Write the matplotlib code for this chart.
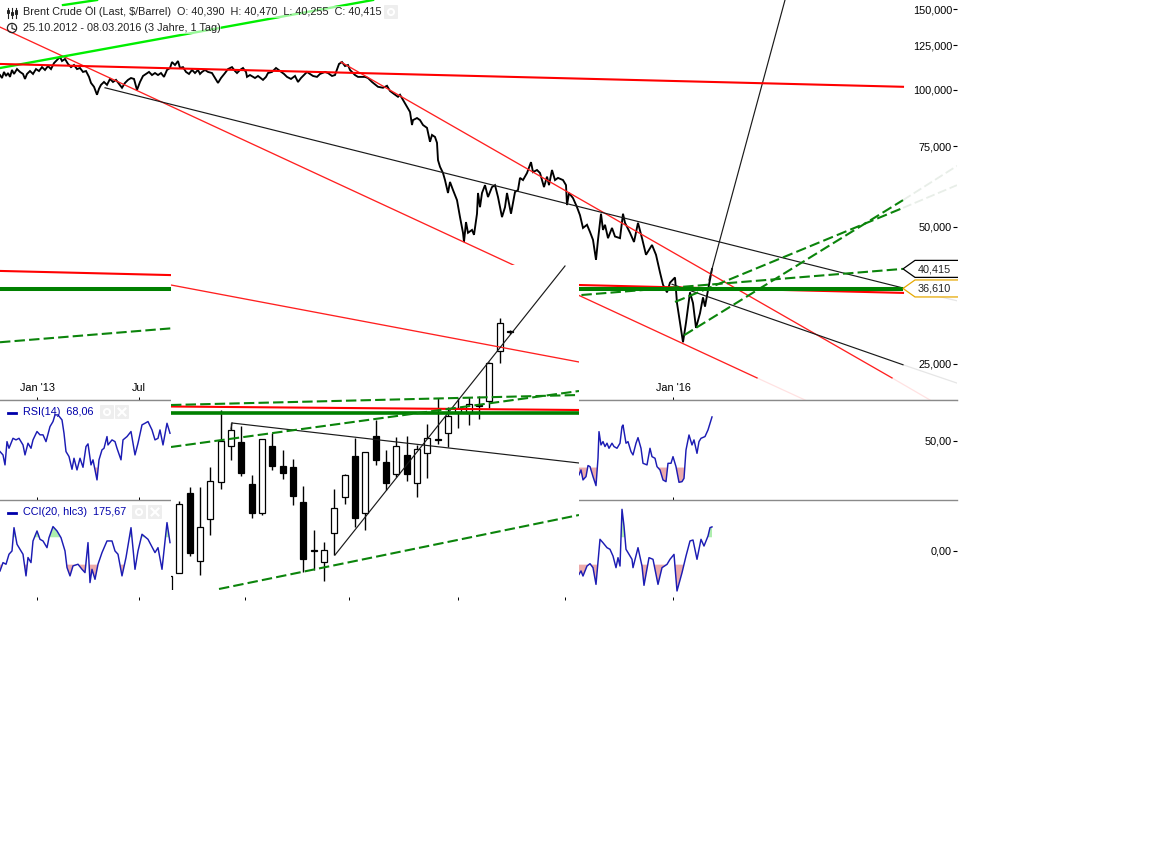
import matplotlib
matplotlib.use("Agg")
import matplotlib.pyplot as plt
from matplotlib.patches import Circle, FancyBboxPatch, Polygon, Rectangle
from matplotlib.ticker import NullLocator
from matplotlib.transforms import IdentityTransform

plt.rcParams["font.family"] = ["Liberation Sans", "DejaVu Sans"]

W, H = 1152, 849
FONT = 7.8

# brent close, x is the chart position along the time axis
price_x = [0, 2, 4, 6, 8, 10, 12, 14, 17, 20, 23, 25,
           27, 30, 33, 36, 39, 42, 45, 48, 51, 54, 57, 60,
           62, 65, 68, 71, 74, 77, 80, 83, 86, 89, 91, 94,
           97, 99, 101, 104, 107, 110, 113, 116, 119, 122, 125, 128,
           131, 134, 137, 140, 143, 146, 149, 152, 155, 158, 161, 164,
           167, 170, 172, 175, 178, 180, 183, 186, 189, 192, 195, 198,
           200, 202, 205, 208, 212, 215, 218, 221, 225, 228, 232, 235,
           237, 240, 243, 246, 247, 250, 255, 258, 263, 266, 268, 272,
           276, 280, 284, 287, 291, 295, 298, 301, 305, 307, 310, 313,
           317, 320, 325, 328, 332, 335, 339, 342, 345, 348, 350, 355,
           358, 365, 368, 372, 378, 383, 387, 390, 394, 398, 400, 403,
           407, 410, 412, 413, 417, 420, 423, 427, 430, 432, 435, 437,
           438, 440, 443, 445, 448, 450, 453, 457, 460, 463, 464, 466,
           468, 472, 474, 477, 478, 480, 482, 485, 488, 492, 495, 498,
           502, 505, 507, 511, 515, 518, 520, 523, 527, 531, 533, 537,
           540, 544, 547, 549, 552, 555, 558, 563, 566, 567, 569, 573,
           577, 580, 583, 587, 590, 593, 596, 598, 601, 603, 605, 608,
           612, 615, 620, 623, 625, 630, 634, 638, 642, 646, 652, 656,
           660, 663, 667, 670, 675, 677, 680, 683, 686, 690, 693, 696,
           700, 703, 705, 708, 712]
price_close = [107.6, 106.0, 109.3, 107.1, 108.7, 106.6, 110.4, 108.2, 110.9, 109.3, 108.2, 105.5,
               108.2, 109.8, 108.2, 110.9, 109.8, 112.0, 110.4, 112.6, 110.9, 114.3, 116.1, 117.9,
               115.5, 116.7, 113.8, 112.0, 113.2, 110.9, 111.5, 109.3, 109.8, 106.6, 103.4, 101.4,
               97.4, 100.4, 102.4, 103.9, 102.4, 105.5, 103.9, 105.0, 102.9, 100.9, 103.4, 105.0,
               106.0, 105.5, 99.8, 103.9, 107.1, 108.2, 109.3, 107.6, 108.7, 107.6, 108.7, 106.6,
               110.4, 111.5, 114.9, 113.2, 115.5, 111.5, 112.0, 109.3, 108.2, 110.4, 108.7, 110.4,
               108.2, 109.3, 110.4, 109.3, 108.7, 106.0, 103.4, 106.0, 108.7, 110.9, 112.0, 109.8,
               108.7, 110.4, 111.5, 109.3, 106.6, 107.6, 106.0, 107.1, 105.0, 106.6, 108.7, 109.3,
               111.5, 109.8, 108.2, 106.6, 105.5, 107.1, 103.9, 106.0, 108.2, 109.3, 108.2, 107.1,
               106.6, 108.2, 109.3, 108.7, 107.1, 107.6, 113.8, 114.9, 112.6, 113.2, 110.4, 107.6,
               106.6, 106.6, 106.0, 103.9, 101.4, 100.9, 101.9, 99.3, 97.8, 96.4, 97.4, 94.9,
               91.6, 89.3, 83.6, 85.7, 86.6, 85.7, 83.6, 82.4, 76.8, 79.5, 78.7, 76.4,
               70.0, 67.7, 65.6, 63.3, 59.3, 62.7, 60.2, 57.2, 52.5, 48.5, 46.3, 51.2,
               48.5, 49.2, 48.0, 53.4, 59.3, 55.2, 59.3, 61.7, 58.1, 61.1, 61.7, 58.1,
               52.5, 55.2, 59.3, 53.4, 59.6, 60.2, 64.0, 63.3, 65.6, 69.3, 65.9, 66.6,
               65.6, 61.1, 64.4, 61.7, 66.6, 63.3, 64.0, 63.3, 61.7, 55.8, 59.3, 57.8,
               55.2, 53.0, 49.7, 50.5, 48.7, 46.8, 42.3, 46.8, 53.4, 49.2, 50.5, 47.2,
               49.7, 47.6, 47.2, 53.4, 51.0, 48.5, 46.3, 51.0, 47.2, 43.4, 45.6, 43.4,
               39.7, 37.3, 35.9, 37.7, 38.7, 34.0, 30.8, 27.9, 30.8, 35.9, 34.0, 30.0,
               32.3, 35.0, 33.4, 36.3, 40.4]

price_ticks = [150, 125, 100, 75, 50, 25]
price_tick_labels = ["150,000", "125,000", "100,000", "75,000", "50,000", "25,000"]
time_ticks = [37, 139, 673]
time_labels = ["Jan '13", "Jul", "Jan '16"]
cci_time_ticks = [37, 139, 245, 349, 458, 565, 673]
last_price = 40.415
support_price = 36.61

# trendlines on the price panel: x0, x1, p0, p1
red_wide = ([0, 903], [113.8, 101.4])
red_low = ([0, 903], [40.0, 35.8])
green_wide = ([0, 903], [36.5, 36.5])
lime_a = ([0, 373], [111.5, 157.2])
lime_b = ([63, 97], [153.2, 157.2])
red_a = ([0, 757], [137.1, 23.3])
red_a_fade = ([757, 805], [23.3, 20.84])
red_b = ([341, 892], [114.9, 23.3])
red_b_fade = ([892, 930], [23.3, 20.84])
black_a = ([105, 903], [100.9, 36.7])
black_a_fade = ([903, 957], [36.7, 34.4])
black_b = ([672, 903], [37.4, 24.9])
black_b_fade = ([903, 957], [24.9, 22.7])
black_steep = ([709, 785], [38.2, 157.2])
dash_a = ([0, 903], [27.9, last_price])
dash_b = ([684, 903], [28.9, 57.2])
dash_b_fade = ([903, 957], [57.2, 68.0])
dash_c = ([675, 903], [34.2, 55.0])
dash_c_fade = ([903, 957], [55.0, 61.7])

# rsi, left and right of the pasted chart
rsi_left_x = [0, 3, 5, 7, 9, 13, 16, 19, 23, 25, 28, 31, 33, 37, 40, 43, 46, 50, 53, 55,
              58, 62, 64, 66, 69, 72, 74, 77, 80, 83, 86, 88, 91, 93, 97, 99, 102, 104, 107, 108,
              112, 115, 117, 121, 123, 127, 131, 135, 138, 142, 145, 148, 152, 155, 158, 160, 163, 167, 170]
rsi_left = [42.0, 39.5, 32.0, 49.5, 44.5, 52.0, 50.8, 52.0, 47.0, 39.5, 48.3, 44.5, 50.8, 57.1, 54.6, 54.6, 49.5, 60.8, 64.6, 69.6,
            69.6, 65.8, 55.8, 42.0, 38.3, 28.7, 37.0, 28.2, 37.0, 30.2, 45.8, 47.8, 32.0, 35.8, 20.7, 35.8, 43.3, 44.5, 53.3, 47.0,
            50.8, 49.5, 44.5, 35.8, 50.8, 53.3, 57.1, 39.5, 48.3, 62.1, 63.3, 64.6, 58.3, 50.8, 52.0, 58.3, 47.0, 63.3, 55.8]
rsi_right_x = [579, 581, 583, 586, 588, 590, 593, 596, 598, 599, 601, 603, 605, 607, 609, 612, 614, 617,
               620, 622, 623, 626, 628, 631, 633, 636, 638, 641, 643, 647, 650, 652, 655, 657, 660, 663,
               666, 668, 671, 673, 676, 679, 682, 684, 686, 689, 692, 694, 697, 699, 701, 705, 708, 712]
rsi_right = [24.5, 28.2, 20.7, 23.2, 31.5, 30.7, 23.2, 16.4, 37.0, 57.0, 47.0, 49.5, 45.8, 48.3, 44.5, 48.3, 45.8, 44.5,
             48.3, 60.8, 62.0, 48.3, 49.5, 42.0, 39.5, 48.3, 52.5, 44.5, 33.2, 32.0, 44.5, 38.2, 37.0, 30.7, 28.2, 20.7,
             19.4, 33.2, 33.2, 38.2, 30.7, 18.9, 19.4, 21.9, 43.2, 54.5, 47.0, 50.8, 40.7, 49.5, 52.0, 53.3, 58.3, 68.06]

# cci
cci_left_x = [0, 3, 6, 9, 12, 14, 17, 20, 23, 26, 28, 31, 33, 37, 40, 43, 47, 49, 53, 57,
              61, 65, 67, 70, 73, 78, 82, 85, 88, 90, 92, 95, 98, 102, 107, 112, 115, 118, 122, 126,
              131, 135, 138, 142, 148, 155, 158, 162, 167, 170]
cci_left = [-146, -85, -97, -24, 0, 170, 49, 12, -24, -182, -48, -85, 73, 146, 85, 73, 24, 97, 178, 146,
            97, 0, -121, -182, -109, -97, -134, -158, 61, -231, -134, -207, -97, -12, 73, 73, 0, -24, -182, -48,
            170, -134, 0, 122, 85, -12, 24, -134, 207, 61]
cci_right_x = [579, 581, 583, 587, 590, 593, 596, 600, 603, 607, 610, 613, 616, 618, 620, 622, 624, 626, 628, 632, 633,
               638, 642, 644, 649, 653, 658, 662, 667, 670, 674, 677, 682, 686, 690, 693, 697, 701, 704, 708, 710, 712]
cci_right = [-171, -146, -183, -110, -93, -122, -244, 85, 60, 24, 12, -37, -122, -49, -110, 304, 182, 12, -12, -61, -122,
             24, -110, -251, -49, -61, -244, -122, -98, -61, -25, -292, -159, -37, 73, 80, -61, 85, 36, 109, 170, 175.67]

# pasted daily candles, units are arbitrary points of that chart
candle_x = [169.5, 179, 190, 200, 210, 221, 231, 241, 252, 262, 272, 283, 293, 303, 314, 324, 334,
            345, 355, 365, 376, 386, 396, 407, 417, 427, 438, 448, 458, 469, 479, 489, 500, 510]
candle_high = [14, 89, 103, 103, 123, 180, 167, 164, 115, 151, 157, 140, 131, 104, 60, 48, 101,
               116, 152, 138, 170, 140, 153, 154, 145, 166, 192, 183, 192, 193, 194, 228, 272, 260]
candle_low = [-10, 17, 34, 15, 55, 101, 130, 114, 72, 75, 120, 111, 85, 18, 20, 9, 35,
              86, 63, 60, 125, 100, 113, 109, 93, 112, 146, 143, 162, 165, 171, 182, 227, 256]
candle_open = [-10, 17, 97, 29, 71, 108, 144, 148, 106, 77, 144, 124, 123, 88, 40, 28, 57,
               93, 134, 77, 154, 128, 116, 135, 107, 137, 151, 157, 178, 177, 185, 189, 239, 258]
candle_close = [14, 86, 37, 63, 109, 149, 160, 117, 77, 151, 124, 117, 94, 31, 39, 40, 82,
                115, 72, 138, 130, 107, 144, 116, 141, 152, 150, 174, 182, 186, 184, 227, 267, 259]

# lines on the pasted chart
inset_red_thin = ([171, 579], [305, 228])
inset_black_steep = ([335, 565], [35, 324])
inset_black = ([232, 579], [167, 127])
inset_hook = ([231, 232], [161, 167])
inset_green = ([171, 579], [177, 177])
inset_red = ([171, 579], [183.5, 180])
inset_dash_a = ([171, 579], [185, 195])
inset_dash_b = ([171, 579], [143, 199])
inset_dash_c = ([219, 579], [1, 75])

title = "Brent Crude Öl (Last, $/Barrel)  O: 40,390  H: 40,470  L: 40,255  C: 40,415"
subtitle = "25.10.2012 - 08.03.2016 (3 Jahre, 1 Tag)"


def px_axes(fig, x0, y0, x1, y1, **kw):
    """axes placed by its pixel box, y counted from the top of the picture"""
    return fig.add_axes([x0 / W, 1 - y1 / H, (x1 - x0) / W, (y1 - y0) / H], **kw)


def right_labels(ax, ticks, labels):
    # labels sit left of the little dash, inside the panel
    ax.set_yticks(ticks)
    ax.set_yticklabels(labels)
    ax.yaxis.set_minor_locator(NullLocator())
    ax.tick_params(axis="y", which="both", left=False, right=True, labelleft=False, labelright=True,
                   direction="in", length=3, width=0.8, pad=-3.6, labelsize=FONT)
    for tick in ax.yaxis.get_major_ticks():
        tick.label2.set_horizontalalignment("right")


def bare(ax):
    for side in ["left", "right", "bottom", "top"]:
        ax.spines[side].set_visible(False)


def panel(ax, ylim, time_pos):
    bare(ax)
    ax.spines["top"].set_visible(True)
    ax.spines["top"].set_color("#8a8a8a")
    ax.spines["top"].set_linewidth(1.0)
    ax.set_xlim(0, 957)
    ax.set_ylim(*ylim)
    ax.set_xticks(time_pos)
    ax.set_xticklabels([])
    ax.tick_params(axis="x", direction="in", length=2.5, width=0.7)


def price_tag(ax, value, color):
    fig_y = ax.transData.transform((0, value))[1]
    left = ax.transData.transform((903, value))[0]
    right = left + 55
    pts = [(right, fig_y + 8.5), (left + 12, fig_y + 8.5), (left, fig_y),
           (left + 12, fig_y - 8.5), (right, fig_y - 8.5)]
    ax.add_patch(Polygon(pts, closed=False, facecolor="white", edgecolor=color, linewidth=0.9,
                         transform=IdentityTransform(), zorder=6, clip_on=False))
    text = f"{value:.3f}".replace(".", ",")
    ax.text(left + 31, fig_y - 0.5, text, transform=IdentityTransform(), fontsize=FONT,
            ha="center", va="center", color="#222222", zorder=7)


def button(ax, cx, cy, size, kind):
    ax.add_patch(FancyBboxPatch((cx - size / 2 + 1, cy - size / 2 + 1), size - 2, size - 2,
                                boxstyle="round,pad=1", facecolor="#eeeeee", edgecolor="none"))
    if kind == "gear":
        ax.add_patch(Circle((cx, cy), size * 0.22, facecolor="none", edgecolor="white", linewidth=1.4))
    else:
        d = size * 0.24
        ax.plot([cx - d, cx + d], [cy - d, cy + d], color="white", lw=1.6)
        ax.plot([cx - d, cx + d], [cy + d, cy - d], color="white", lw=1.6)


fig = plt.figure(figsize=(W / 100, H / 100), dpi=100, facecolor="white")

# price panel
ax = px_axes(fig, 0, 0, 957, 400, zorder=1)
bare(ax)
ax.spines["bottom"].set_visible(True)
ax.spines["bottom"].set_color("#8a8a8a")
ax.set_yscale("log")
ax.set_xlim(0, 957)
ax.set_ylim(20.84, 157.2)
ax.plot(price_x, price_close, color="black", lw=1.35, solid_joinstyle="miter", zorder=2)

for line in [red_a_fade, red_b_fade]:
    ax.plot(*line, color="#ffe2e2", lw=0.9, zorder=3)
for line in [black_a_fade, black_b_fade]:
    ax.plot(*line, color="#e6e6e6", lw=0.9, zorder=3)
for line in [dash_b_fade, dash_c_fade]:
    ax.plot(*line, color="#e8eee8", lw=1.3, dashes=(5, 2), zorder=3)
for line in [red_a, red_b]:
    ax.plot(*line, color="#ff2020", lw=0.95, zorder=3)
for line in [black_a, black_b, black_steep]:
    ax.plot(*line, color="#1a1a1a", lw=0.85, zorder=3)
for line in [lime_a, lime_b]:
    ax.plot(*line, color="#00ee00", lw=1.7, zorder=3)
ax.plot(*red_wide, color="#ff0000", lw=1.5, zorder=4)
ax.plot(*red_low, color="#ff0000", lw=1.5, zorder=4)
for line in [dash_a, dash_b, dash_c]:
    ax.plot(*line, color="#0b840b", lw=1.5, dashes=(5, 2), zorder=4)
ax.plot(*green_wide, color="#008000", lw=2.9, zorder=5, solid_capstyle="butt")

right_labels(ax, price_ticks, price_tick_labels)
ax.set_xticks(time_ticks)
ax.set_xticklabels(time_labels)
ax.tick_params(axis="x", direction="in", length=2.5, width=0.7, pad=-12.3, labelsize=FONT)
fig.canvas.draw()
price_tag(ax, last_price, "black")
price_tag(ax, support_price, "#e6a800")

# rsi
ax_rsi = px_axes(fig, 0, 400, 957, 500, zorder=1)
panel(ax_rsi, (5.6, 80.8), time_ticks)
for xs, ys in [(rsi_left_x, rsi_left), (rsi_right_x, rsi_right)]:
    ax_rsi.fill_between(xs, ys, 30, where=[v < 30 for v in ys], interpolate=True,
                        color="#ecaaaa", lw=0)
    ax_rsi.plot(xs, ys, color="#1c1cb4", lw=1.05)
right_labels(ax_rsi, [50], ["50,00"])

# cci
ax_cci = px_axes(fig, 0, 500, 957, 600, zorder=1)
panel(ax_cci, (-358, 372), cci_time_ticks)
for xs, ys in [(cci_left_x, cci_left), (cci_right_x, cci_right)]:
    ax_cci.fill_between(xs, ys, -100, where=[v < -100 for v in ys], interpolate=True,
                        color="#ecaaaa", lw=0)
    ax_cci.fill_between(xs, ys, 100, where=[v > 100 for v in ys], interpolate=True,
                        color="#aeeeae", lw=0)
    ax_cci.plot(xs, ys, color="#1c1cb4", lw=1.05)
right_labels(ax_cci, [0], ["0,00"])

# the pasted candle chart sits on top of everything
ax_in = px_axes(fig, 171, 265, 579, 590, zorder=3, facecolor="white")
bare(ax_in)
ax_in.set_xlim(171, 579)
ax_in.set_ylim(0, 325)
ax_in.set_xticks([])
ax_in.set_yticks([])
ax_in.vlines(candle_x, candle_low, candle_high, color="black", lw=1.0, zorder=2)
bottoms = [min(o, c) for o, c in zip(candle_open, candle_close)]
heights = [abs(o - c) for o, c in zip(candle_open, candle_close)]
fills = ["black" if c < o else "white" for o, c in zip(candle_open, candle_close)]
ax_in.bar(candle_x, heights, bottom=bottoms, width=5.5, color=fills, edgecolor="black", lw=0.9, zorder=3)
ax_in.plot(*inset_red_thin, color="#ff2020", lw=0.95, zorder=4)
for line in [inset_black_steep, inset_black, inset_hook]:
    ax_in.plot(*line, color="#1a1a1a", lw=0.85, zorder=4)
ax_in.plot(*inset_green, color="#008000", lw=2.6, zorder=5, solid_capstyle="butt")
ax_in.plot(*inset_red, color="#ff0000", lw=1.5, zorder=5)
for line in [inset_dash_a, inset_dash_b, inset_dash_c]:
    ax_in.plot(*line, color="#0b840b", lw=1.5, dashes=(5, 2), zorder=5)

# header, legends and buttons in picture pixels
over = fig.add_axes([0, 0, 1, 1], zorder=5)
over.patch.set_alpha(0)
over.axis("off")
over.set_xlim(0, W)
over.set_ylim(H, 0)

box = dict(facecolor="white", edgecolor="none", alpha=0.6, pad=0.5)
over.text(23, 12, title, fontsize=FONT, va="center", color="#222222", bbox=box)
over.text(23, 28, subtitle, fontsize=FONT, va="center", color="#222222", bbox=box)
button(over, 391, 12, 14, "gear")

# chart type and clock icons
for cx, top, bot, b0, b1 in [(7.5, 8, 18, 10, 13), (11.5, 8, 18, 12, 15), (15.5, 8, 18, 10, 14)]:
    over.plot([cx, cx], [top, bot], color="#222222", lw=0.8)
    over.add_patch(Rectangle((cx - 1, b0), 2, b1 - b0, facecolor="white", edgecolor="#222222", lw=0.7))
over.add_patch(Circle((12, 28), 4.6, facecolor="none", edgecolor="#222222", lw=0.9))
over.plot([12, 12, 15], [25, 28.5, 29.5], color="#222222", lw=0.8)

over.plot([8, 16], [413, 413], color="#0000aa", lw=2)
over.text(23, 412, "RSI(14)  68,06", fontsize=FONT, va="center", color="#0000aa")
button(over, 107, 412, 14, "gear")
button(over, 122, 412, 14, "close")
over.plot([8, 16], [513, 513], color="#0000aa", lw=2)
over.text(23, 512, "CCI(20, hlc3)  175,67", fontsize=FONT, va="center", color="#0000aa")
button(over, 139, 512, 14, "gear")
button(over, 155, 512, 14, "close")

fig.savefig("out.png", dpi=100)
